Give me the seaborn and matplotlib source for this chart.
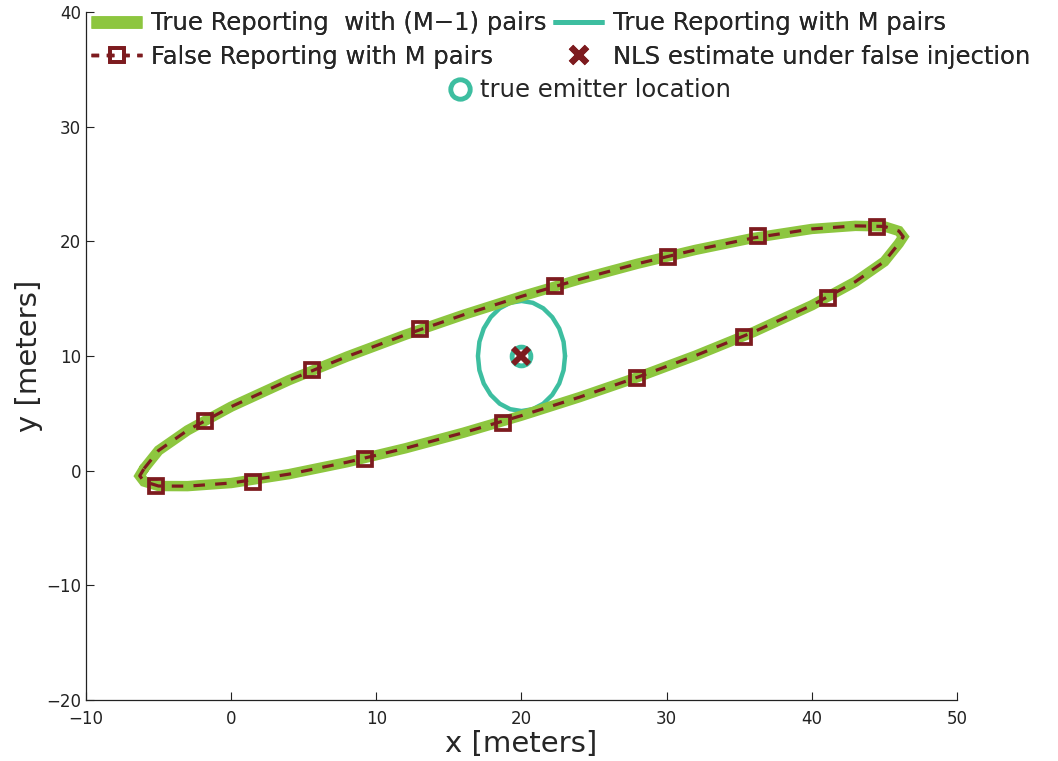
import matplotlib
matplotlib.use("Agg")
import matplotlib.pyplot as plt
import seaborn as sns
from matplotlib.lines import Line2D

# Outer (large) ellipse: upper branch left->right, lower branch right->left
ellipse_x = [-6.0, -5.0, -3.0, 0.0, 4.0, 8.0, 12.0, 16.0, 20.0, 24.0, 28.0, 32.0, 36.0, 40.0,
             43.0, 45.0, 46.0, 46.3, 46.0, 45.0, 43.0, 40.0, 36.0, 32.0, 28.0, 24.0, 20.0,
             16.0, 12.0, 8.0, 4.0, 0.0, -3.0, -5.0, -6.0, -6.3, -6.0]
ellipse_y = [0.18, 1.76, 3.52, 5.58, 7.90, 9.96, 11.85, 13.59, 15.20, 16.69, 18.05, 19.26, 20.30,
             21.08, 21.35, 21.30, 20.90, 20.40, 19.82, 18.24, 16.48, 14.42, 12.10, 10.04, 8.15,
             6.41, 4.80, 3.31, 1.95, 0.74, -0.30, -1.08, -1.35, -1.34, -0.95, -0.45, 0.18]

# Square markers on the false-reporting curve
marker_x = [-1.80, 5.56, 13.0, 22.30, 30.06, 36.30, 44.46, 41.12, 35.34, 27.93, 18.70, 9.21, 1.48, -5.18]
marker_y = [4.37, 8.79, 12.34, 16.11, 18.67, 20.47, 21.28, 15.04, 11.64, 8.06, 4.19, 1.00, -0.95, -1.33]

# Inner (small) ellipse: true reporting with M pairs
inner_x = [23.0, 22.90, 22.60, 22.12, 21.50, 20.78, 20.0, 19.22, 18.50, 17.88, 17.40, 17.10, 17.0,
           17.10, 17.40, 17.88, 18.50, 19.22, 20.0, 20.78, 21.50, 22.12, 22.60, 22.90, 23.0]
inner_y = [10.0, 11.24, 12.40, 13.39, 14.16, 14.64, 14.8, 14.64, 14.16, 13.39, 12.40, 11.24, 10.0,
           8.76, 7.60, 6.61, 5.84, 5.36, 5.2, 5.36, 5.84, 6.61, 7.60, 8.76, 10.0]

emitter_x = [20.0]
emitter_y = [10.0]
nls_x = [20.0]
nls_y = [10.0]

labels = ["True Reporting  with (M\u22121) pairs", "True Reporting with M pairs",
          "False Reporting with M pairs", "NLS estimate under false injection",
          "true emitter location"]
x_ticks = [-10, 0, 10, 20, 30, 40, 50]
y_ticks = [-20, -10, 0, 10, 20, 30, 40]

GREEN = "#8DC63F"
TEAL = "#3DBEA0"
RED = "#7D1B1F"

sns.set_style("ticks")
plt.rcParams['font.family'] = ['DejaVu Sans']
plt.rcParams['axes.unicode_minus'] = True

fig = plt.figure(figsize=(10.58, 7.61), dpi=100)
ax = fig.add_axes([0.0813, 0.0802, 0.8232, 0.904])

sns.lineplot(x=inner_x, y=inner_y, sort=False, estimator=None, color=TEAL, lw=3.2, ax=ax, zorder=1)
sns.lineplot(x=ellipse_x, y=ellipse_y, sort=False, estimator=None, color=GREEN, lw=7.5, ax=ax,
             zorder=2, solid_joinstyle='miter')
sns.lineplot(x=ellipse_x, y=ellipse_y, sort=False, estimator=None, color=RED, lw=2.3, ax=ax,
             zorder=3, linestyle=(0, (3.6, 3.2)))
sns.lineplot(x=marker_x, y=marker_y, sort=False, estimator=None, color=RED, ax=ax, zorder=4,
             linestyle='none', marker='s', markersize=9.5, markerfacecolor='none',
             markeredgecolor=RED, markeredgewidth=2.7)
sns.lineplot(x=emitter_x, y=emitter_y, estimator=None, color=TEAL, ax=ax, zorder=5,
             linestyle='none', marker='o', markersize=13.5, markerfacecolor='white',
             markeredgecolor=TEAL, markeredgewidth=3.5)
sns.lineplot(x=nls_x, y=nls_y, estimator=None, color=RED, ax=ax, zorder=6,
             linestyle='none', marker='x', markersize=11, markeredgecolor=RED, markeredgewidth=4.2)

ax.set_xlim(-10, 50)
ax.set_ylim(-20, 40)
ax.set_xticks(x_ticks)
ax.set_yticks(y_ticks)
ax.tick_params(direction='in', length=6, width=0.8, labelsize=12, colors='#222222')
ax.tick_params(axis='x', pad=7)
for s in ['top', 'right']:
    ax.spines[s].set_visible(False)
for s in ['left', 'bottom']:
    ax.spines[s].set_linewidth(0.9)
    ax.spines[s].set_color('#222222')
ax.set_xlabel("x [meters]", fontsize=21, labelpad=2)
ax.set_ylabel("y [meters]", fontsize=21, labelpad=2)

h_green = Line2D([], [], color=GREEN, lw=9, solid_capstyle='butt')
h_teal = Line2D([], [], color=TEAL, lw=3.5, solid_capstyle='butt')
h_dash = Line2D([], [], color=RED, lw=2.5, linestyle=(0, (2.2, 2.2)), marker='s', markersize=9.5,
                markerfacecolor='none', markeredgecolor=RED, markeredgewidth=2.7)
h_x = Line2D([], [], color=RED, linestyle='none', marker='x', markersize=11, markeredgewidth=4.5)
h_o = Line2D([], [], color=TEAL, linestyle='none', marker='o', markersize=14,
             markerfacecolor='white', markeredgecolor=TEAL, markeredgewidth=3.5)

leg1 = fig.legend(handles=[h_green, h_dash, h_teal, h_x],
                  labels=[labels[0], labels[2], labels[1], labels[3]],
                  ncol=2, loc='upper left', bbox_to_anchor=(0.086, 0.985), frameon=False,
                  fontsize=17.5, handlelength=2.1, handletextpad=0.35, columnspacing=0.3,
                  borderpad=0, borderaxespad=0, labelspacing=0.38)
fig.add_artist(leg1)
leg2 = fig.legend(handles=[h_o], labels=[labels[4]], loc='upper left',
                  bbox_to_anchor=(0.423, 0.897), frameon=False, fontsize=17.5,
                  handlelength=1.0, handletextpad=0.35, borderpad=0, borderaxespad=0)

fig.savefig("out.png", dpi=100)
